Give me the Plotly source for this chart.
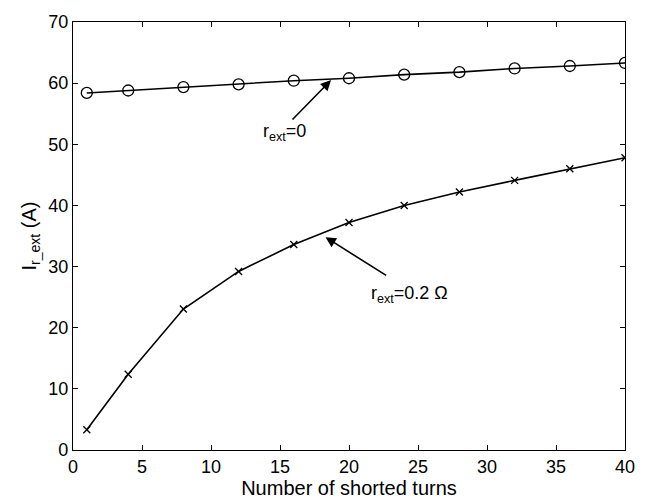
import plotly.graph_objects as go

turns = [1, 4, 8, 12, 16, 20, 24, 28, 32, 36, 40]
i_r0 = [58.4, 58.8, 59.35, 59.8, 60.4, 60.8, 61.4, 61.8, 62.4, 62.8, 63.3]
i_r02 = [3.3, 12.4, 23.05, 29.2, 33.6, 37.2, 40.0, 42.2, 44.1, 46.0, 47.8]

x_ticks = [0, 5, 10, 15, 20, 25, 30, 35, 40]
y_ticks = [0, 10, 20, 30, 40, 50, 60, 70]

FONT = "Liberation Sans, Arial, sans-serif"

fig = go.Figure()
fig.add_trace(go.Scatter(
    x=turns, y=i_r0, mode="lines+markers",
    line=dict(color="black", width=1.6),
    marker=dict(symbol="circle-open", size=11, color="black", line=dict(width=1.3)),
    showlegend=False))
fig.add_trace(go.Scatter(
    x=turns, y=i_r02, mode="lines+markers",
    line=dict(color="black", width=1.6),
    marker=dict(symbol="x-thin-open", size=7, color="black", line=dict(width=1.3)),
    showlegend=False))

# arrows
fig.add_annotation(x=18.7, y=60.5, ax=15.8, ay=53.8, xref="x", yref="y",
                   axref="x", ayref="y", text="", showarrow=True,
                   arrowhead=2, arrowsize=1.3, arrowwidth=1.6, arrowcolor="black")
fig.add_annotation(x=18.3, y=34.8, ax=22.8, ay=28.4, xref="x", yref="y",
                   axref="x", ayref="y", text="", showarrow=True,
                   arrowhead=2, arrowsize=1.3, arrowwidth=1.6, arrowcolor="black")
fig.add_annotation(x=15.3, y=52.0, xref="x", yref="y", showarrow=False,
                   text="r<sub>ext</sub>=0", font=dict(family=FONT, size=18, color="black"))
fig.add_annotation(x=24.4, y=25.5, xref="x", yref="y", showarrow=False,
                   text="r<sub>ext</sub>=0.2 Ω", font=dict(family=FONT, size=18, color="black"))

axis_common = dict(showgrid=False, zeroline=False, showline=True, linecolor="black",
                   linewidth=1.3, mirror="allticks", ticks="inside", ticklen=5,
                   tickcolor="black", tickwidth=1,
                   tickfont=dict(family=FONT, size=18, color="black"))

fig.update_xaxes(range=[0, 40], tickvals=x_ticks,
                 title=dict(text="Number of shorted turns", standoff=1,
                            font=dict(family=FONT, size=20, color="black")),
                 **axis_common)
fig.update_yaxes(range=[0, 70], tickvals=y_ticks,
                 title=dict(text="I<sub>r_ext</sub> (A)", standoff=6,
                            font=dict(family=FONT, size=20, color="black")),
                 **axis_common)

fig.update_layout(width=647, height=504, paper_bgcolor="white", plot_bgcolor="white",
                  margin=dict(l=73, r=19, t=16, b=52))

fig.write_html("out.html")
